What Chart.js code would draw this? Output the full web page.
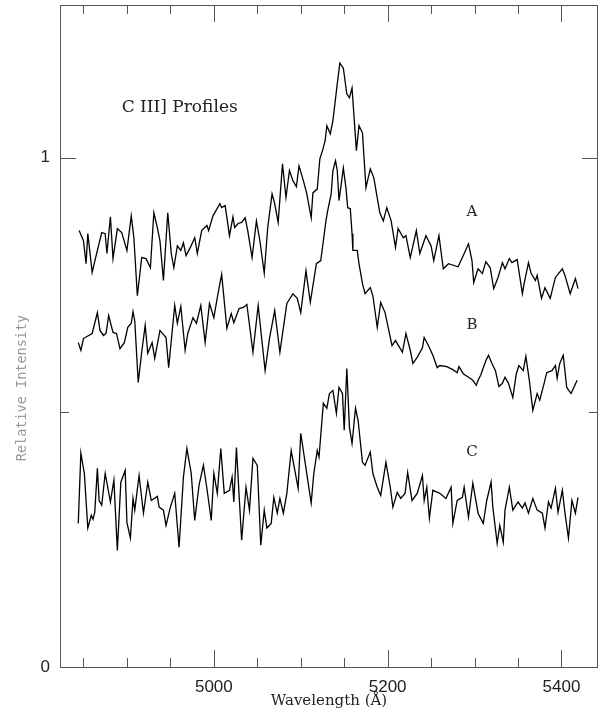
<!DOCTYPE html>
<html>
<head>
<meta charset="utf-8">
<script src="https://cdn.jsdelivr.net/npm/chart.js@4.4.0/dist/chart.umd.min.js"></script>
<style>
  html, body { margin: 0; padding: 0; background: #fff; }
  #wrap { width: 604px; height: 713px; }
</style>
</head>
<body>
<div id="wrap"><canvas id="chart" width="604" height="713"></canvas></div>
<script>
// C III] profiles, wavelength in Angstrom, relative intensity
const aWave = [4845,4850,4853,4855,4860,4864,4871,4875,4877,4881,4884,4889,4894,4900,4905,4908,4912,4917,4922,4927,4931,4935,4938,4942,4947,4951,4954,4958,4962,4965,4968,4973,4978,4981,4986,4992,4994,4999,5007,5009,5013,5018,5022,5024,5028,5032,5036,5039,5044,5049,5053,5058,5062,5067,5070,5074,5079,5083,5087,5091,5095,5098,5103,5107,5112,5114,5119,5122,5125,5128,5130,5134,5137,5142,5145,5149,5153,5156,5159,5164,5167,5171,5175,5180,5184,5191,5195,5199,5204,5209,5212,5218,5221,5226,5233,5237,5244,5250,5253,5259,5264,5270,5281,5287,5293,5297,5299,5304,5309,5313,5318,5322,5327,5332,5335,5340,5343,5349,5355,5357,5362,5365,5370,5372,5377,5381,5387,5393,5401,5404,5410,5416,5419];
const aFlux = [0.857,0.837,0.792,0.851,0.775,0.804,0.853,0.851,0.812,0.884,0.802,0.861,0.853,0.818,0.886,0.843,0.729,0.804,0.802,0.784,0.892,0.863,0.837,0.759,0.892,0.812,0.784,0.827,0.818,0.833,0.808,0.824,0.843,0.812,0.857,0.867,0.857,0.886,0.910,0.902,0.906,0.847,0.884,0.863,0.871,0.873,0.882,0.857,0.804,0.876,0.837,0.773,0.863,0.929,0.910,0.873,0.988,0.922,0.975,0.955,0.943,0.984,0.955,0.929,0.882,0.931,0.939,0.998,1.014,1.033,1.063,1.047,1.073,1.145,1.186,1.176,1.125,1.118,1.137,1.014,1.063,1.049,0.941,0.978,0.961,0.892,0.876,0.902,0.876,0.824,0.861,0.843,0.847,0.804,0.857,0.812,0.847,0.827,0.798,0.847,0.782,0.792,0.786,0.808,0.831,0.798,0.755,0.782,0.773,0.796,0.784,0.743,0.765,0.794,0.782,0.802,0.794,0.800,0.733,0.753,0.794,0.773,0.759,0.769,0.724,0.745,0.724,0.765,0.782,0.769,0.733,0.763,0.743];

const bWave = [4844,4847,4850,4854,4860,4866,4869,4873,4876,4879,4884,4888,4892,4897,4901,4905,4907,4909,4913,4917,4921,4924,4929,4932,4938,4945,4948,4955,4958,4962,4967,4970,4976,4980,4985,4990,4995,5000,5005,5009,5015,5020,5023,5029,5034,5038,5045,5051,5059,5064,5070,5076,5084,5091,5096,5100,5106,5111,5118,5123,5126,5129,5131,5135,5137,5140,5142,5144,5146,5149,5152,5154,5157,5159,5160,5165,5167,5171,5174,5180,5183,5188,5192,5197,5205,5209,5217,5221,5226,5229,5234,5240,5242,5247,5252,5257,5260,5268,5275,5280,5282,5287,5293,5298,5302,5304,5307,5313,5316,5320,5324,5328,5332,5335,5339,5344,5348,5351,5356,5359,5363,5367,5372,5375,5380,5383,5389,5393,5395,5398,5402,5406,5411,5418];
const bFlux = [0.637,0.622,0.645,0.649,0.655,0.696,0.661,0.651,0.655,0.690,0.657,0.655,0.625,0.637,0.667,0.675,0.698,0.680,0.559,0.618,0.671,0.616,0.637,0.606,0.661,0.647,0.588,0.710,0.675,0.708,0.622,0.655,0.686,0.675,0.710,0.637,0.714,0.686,0.735,0.771,0.665,0.694,0.676,0.704,0.706,0.712,0.618,0.710,0.582,0.645,0.700,0.618,0.714,0.733,0.724,0.696,0.778,0.716,0.792,0.798,0.837,0.876,0.896,0.929,0.975,0.994,0.975,0.916,0.941,0.980,0.941,0.902,0.900,0.851,0.818,0.818,0.792,0.753,0.733,0.745,0.729,0.667,0.716,0.696,0.631,0.641,0.618,0.655,0.622,0.596,0.608,0.627,0.647,0.631,0.612,0.588,0.592,0.590,0.584,0.578,0.590,0.576,0.569,0.563,0.553,0.563,0.573,0.602,0.612,0.596,0.582,0.551,0.557,0.569,0.557,0.529,0.576,0.592,0.582,0.610,0.563,0.504,0.537,0.524,0.557,0.578,0.582,0.592,0.567,0.596,0.612,0.549,0.537,0.563];

const cWave = [4844,4847,4851,4855,4859,4861,4863,4866,4868,4871,4875,4881,4885,4889,4893,4898,4900,4904,4907,4909,4914,4919,4924,4928,4935,4937,4942,4945,4950,4955,4960,4965,4969,4974,4978,4983,4988,4992,4997,5000,5004,5008,5012,5018,5021,5023,5026,5032,5037,5041,5045,5050,5054,5058,5061,5066,5069,5073,5076,5080,5084,5089,5097,5100,5105,5112,5115,5119,5121,5126,5130,5133,5137,5141,5144,5148,5150,5153,5156,5159,5163,5166,5171,5174,5180,5183,5188,5192,5198,5203,5206,5211,5215,5220,5223,5228,5234,5240,5242,5245,5248,5252,5260,5267,5273,5275,5280,5286,5288,5293,5298,5304,5310,5314,5319,5321,5326,5329,5333,5335,5340,5344,5350,5355,5358,5362,5367,5372,5378,5381,5385,5388,5393,5396,5401,5404,5408,5412,5416,5419];
const cFlux = [0.282,0.420,0.380,0.273,0.298,0.290,0.304,0.390,0.327,0.318,0.380,0.324,0.367,0.229,0.363,0.386,0.284,0.253,0.331,0.308,0.376,0.302,0.363,0.327,0.335,0.314,0.308,0.278,0.314,0.341,0.235,0.373,0.429,0.380,0.288,0.357,0.396,0.351,0.288,0.380,0.341,0.429,0.341,0.347,0.373,0.324,0.431,0.249,0.353,0.308,0.410,0.396,0.239,0.308,0.273,0.282,0.333,0.302,0.331,0.302,0.341,0.425,0.351,0.459,0.402,0.322,0.380,0.425,0.412,0.518,0.508,0.537,0.543,0.498,0.549,0.537,0.465,0.586,0.471,0.439,0.508,0.484,0.402,0.396,0.422,0.380,0.353,0.337,0.402,0.353,0.314,0.343,0.331,0.341,0.382,0.327,0.341,0.376,0.327,0.353,0.292,0.347,0.341,0.331,0.353,0.282,0.327,0.333,0.353,0.294,0.361,0.302,0.282,0.327,0.363,0.314,0.243,0.278,0.245,0.308,0.353,0.308,0.324,0.312,0.322,0.302,0.331,0.308,0.302,0.273,0.324,0.312,0.351,0.304,0.347,0.302,0.253,0.327,0.302,0.333];

const xTicks = [4850,4900,4950,5000,5050,5100,5150,5200,5250,5300,5350,5400];
const xLabelled = [5000,5200,5400];
const yTicks = [0, 0.5, 1];
const yLabelled = [0, 1];

const toPoints = (w, f) => w.map((x, i) => ({ x, y: f[i] }));

// inward ticks on all four sides, full frame, free text
const frame = {
    id: 'frame',
    afterDraw(chart) {
        const { ctx, chartArea: a, scales: { x, y } } = chart;
        ctx.save();
        ctx.strokeStyle = '#555';
        ctx.lineWidth = 1;
        ctx.strokeRect(a.left + 0.5, a.top + 0.5, a.right - a.left - 1, a.bottom - a.top);
        ctx.beginPath();
        xTicks.forEach(w => {
            const px = Math.round(x.getPixelForValue(w)) + 0.5;
            const len = xLabelled.includes(w) ? 17 : 9;
            ctx.moveTo(px, a.bottom); ctx.lineTo(px, a.bottom - len);
            ctx.moveTo(px, a.top); ctx.lineTo(px, a.top + len);
        });
        yTicks.forEach(v => {
            const py = Math.round(y.getPixelForValue(v)) + 0.5;
            const len = yLabelled.includes(v) ? 16 : 9;
            ctx.moveTo(a.left, py); ctx.lineTo(a.left + len, py);
            ctx.moveTo(a.right, py); ctx.lineTo(a.right - len, py);
        });
        ctx.stroke();

        ctx.fillStyle = '#222';
        ctx.textBaseline = 'middle';
        ctx.font = '17px "DejaVu Serif"';
        ctx.textAlign = 'left';
        ctx.fillText('C III] Profiles', x.getPixelForValue(4894), y.getPixelForValue(1.098));
        ctx.font = '15px "DejaVu Serif"';
        ctx.textAlign = 'center';
        ctx.fillText('A', x.getPixelForValue(5297), y.getPixelForValue(0.894));
        ctx.fillText('B', x.getPixelForValue(5297), y.getPixelForValue(0.671));
        ctx.fillText('C', x.getPixelForValue(5297), y.getPixelForValue(0.422));

        ctx.fillStyle = '#999';
        ctx.font = '13.5px "DejaVu Sans Mono"';
        ctx.translate(22, 388);
        ctx.rotate(-Math.PI / 2);
        ctx.fillText('Relative Intensity', 0, 0);
        ctx.restore();
    }
};

const lineStyle = { borderColor: '#000', borderWidth: 1.3, pointRadius: 0, tension: 0, fill: false };

new Chart(document.getElementById('chart'), {
    type: 'line',
    data: {
        datasets: [
            { label: 'A', data: toPoints(aWave, aFlux), ...lineStyle },
            { label: 'B', data: toPoints(bWave, bFlux), ...lineStyle },
            { label: 'C', data: toPoints(cWave, cFlux), ...lineStyle }
        ]
    },
    options: {
        responsive: false,
        animation: false,
        devicePixelRatio: 1,
        layout: { padding: { left: 0, right: 6, top: 5, bottom: 0 } },
        plugins: { legend: { display: false }, tooltip: { enabled: false } },
        scales: {
            x: {
                type: 'linear',
                min: 4823,
                max: 5442,
                afterBuildTicks: s => { s.ticks = xTicks.map(value => ({ value })); },
                afterFit: s => { s.height = 46; s.paddingLeft = 0; s.paddingRight = 0; },
                grid: { display: false, drawTicks: false },
                border: { display: false },
                ticks: {
                    autoSkip: false,
                    maxRotation: 0,
                    padding: 10,
                    color: '#222',
                    font: { family: '"Liberation Sans"', size: 17 },
                    callback: v => xLabelled.includes(v) ? String(v) : ''
                },
                title: {
                    display: true,
                    text: 'Wavelength (Å)',
                    color: '#222',
                    font: { family: '"DejaVu Serif"', size: 15 },
                    padding: { top: 0, bottom: 3 }
                }
            },
            y: {
                min: 0,
                max: 1.3,
                afterBuildTicks: s => { s.ticks = yTicks.map(value => ({ value })); },
                afterFit: s => { s.width = 60; s.paddingTop = 0; s.paddingBottom = 0; },
                grid: { display: false, drawTicks: false },
                border: { display: false },
                ticks: {
                    padding: 10,
                    color: '#222',
                    font: { family: '"Liberation Sans"', size: 17 },
                    callback: v => yLabelled.includes(v) ? String(v) : ''
                }
            }
        }
    },
    plugins: [frame]
});
</script>
</body>
</html>
